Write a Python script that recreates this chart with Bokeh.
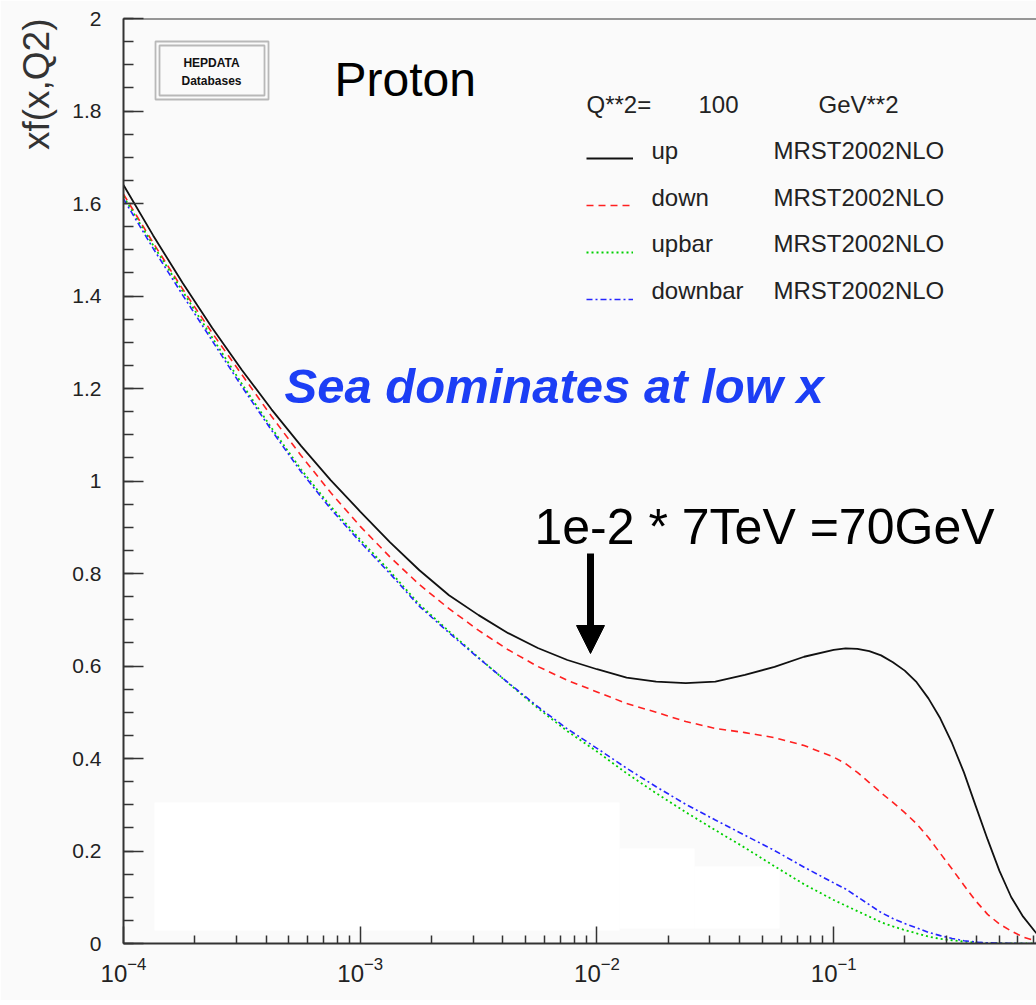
import math
from bokeh.plotting import figure
from bokeh.models import (Legend, LegendItem, Label, Arrow, NormalHead, Span, BoxAnnotation,
                          FixedTicker, Range1d, LogTickFormatter)
from bokeh.embed import file_html
from bokeh.resources import INLINE

# ---------------- data ----------------
x = [1.0e-4, 1.334e-4, 1.778e-4, 2.371e-4, 3.162e-4, 4.217e-4, 5.623e-4, 7.499e-4,
     1.0e-3, 1.334e-3, 1.778e-3, 2.371e-3, 3.162e-3, 4.217e-3, 5.623e-3, 7.499e-3,
     1.0e-2, 1.334e-2, 1.778e-2, 2.371e-2, 3.162e-2, 4.217e-2, 5.623e-2, 7.499e-2,
     0.1, 0.1122, 0.1259, 0.1413, 0.1585, 0.1778, 0.1995, 0.2239, 0.2512, 0.2818,
     0.3162, 0.3548, 0.3981, 0.4467, 0.5012, 0.5623, 0.6310, 0.7079, 0.7244]
up = [1.640, 1.531, 1.428, 1.331, 1.240, 1.155, 1.076, 1.002,
      0.934, 0.868, 0.807, 0.753, 0.710, 0.671, 0.639, 0.613,
      0.593, 0.575, 0.566, 0.563, 0.566, 0.581, 0.598, 0.620,
      0.635, 0.638, 0.637, 0.632, 0.623, 0.608, 0.590, 0.565, 0.530, 0.487,
      0.433, 0.370, 0.297, 0.225, 0.157, 0.100, 0.058, 0.026, 0.020]
down = [1.620, 1.515, 1.415, 1.320, 1.230, 1.140, 1.055, 0.975,
        0.902, 0.836, 0.776, 0.724, 0.677, 0.635, 0.599, 0.569,
        0.544, 0.519, 0.500, 0.480, 0.465, 0.456, 0.445, 0.428,
        0.403, 0.389, 0.370, 0.348, 0.326, 0.305, 0.283, 0.259, 0.229, 0.195,
        0.161, 0.126, 0.092, 0.063, 0.042, 0.027, 0.014, 0.006, 0.005]
upbar = [1.615, 1.510, 1.410, 1.310, 1.210, 1.115, 1.025, 0.945,
         0.873, 0.805, 0.733, 0.675, 0.618, 0.563, 0.509, 0.459,
         0.415, 0.368, 0.325, 0.284, 0.245, 0.207, 0.167, 0.128,
         0.094, 0.082, 0.070, 0.058, 0.046, 0.037, 0.029, 0.022, 0.015, 0.010,
         0.007, 0.004, 0.002, 0.001, 0.0005, 0.0002, 0.0, 0.0, 0.0]
downbar = [1.610, 1.503, 1.402, 1.303, 1.204, 1.110, 1.020, 0.940,
           0.868, 0.800, 0.729, 0.672, 0.617, 0.564, 0.512, 0.464,
           0.422, 0.379, 0.339, 0.301, 0.267, 0.234, 0.201, 0.165,
           0.131, 0.118, 0.101, 0.084, 0.067, 0.054, 0.043, 0.034, 0.024, 0.017,
           0.011, 0.006, 0.003, 0.0015, 0.0008, 0.0003, 0.0, 0.0, 0.0]
series_names = ["up", "down", "upbar", "downbar"]
pdf_set = "MRST2002NLO"

y_ticks = [0, 0.2, 0.4, 0.6, 0.8, 1.0, 1.2, 1.4, 1.6, 1.8, 2.0]
y_tick_labels = ["0", "0.2", "0.4", "0.6", "0.8", "1", "1.2", "1.4", "1.6", "1.8", "2"]
x_ticks = [1e-4, 1e-3, 1e-2, 1e-1]

FONT = "Liberation Sans"

p = figure(width=1036, height=1000, x_axis_type="log",
           x_range=Range1d(1e-4, 0.7187), y_range=Range1d(0, 2),
           output_backend="svg", toolbar_location=None,
           title="xf(x,Q2)", title_location="left",
           min_border_left=122, min_border_right=0, min_border_top=18, min_border_bottom=57,
           background_fill_color="#fafafa", border_fill_color="#fafafa")
p.outline_line_color = None
p.xgrid.visible = False
p.ygrid.visible = False
p.title.align = "right"
p.title.text_font = FONT
p.title.text_font_size = "37px"
p.title.text_font_style = "normal"
p.title.text_color = "#333333"
p.title.standoff = 26

# white patches of the original scan
for (l, r, t, b) in [(31, 496, 141, 13), (496, 571, 95, 15), (571, 656, 77, 15)]:
    p.add_layout(BoxAnnotation(left=l, right=r, top=t, bottom=b,
                               left_units="screen", right_units="screen",
                               top_units="screen", bottom_units="screen",
                               fill_color="white", fill_alpha=1.0, line_color=None,
                               level="underlay"))

# axes
minor_x = [m * 10.0 ** e for e in range(-4, 0) for m in range(2, 10)]
p.xaxis.ticker = FixedTicker(ticks=x_ticks, minor_ticks=minor_x)
p.xaxis.formatter = LogTickFormatter()
p.yaxis.ticker = FixedTicker(ticks=y_ticks, minor_ticks=[i * 0.05 for i in range(41)])
p.yaxis.major_label_overrides = {t: s for t, s in zip(y_ticks, y_tick_labels)}
for ax in (p.xaxis, p.yaxis):
    ax.axis_line_color = "#333333"
    ax.axis_line_width = 2
    ax.major_tick_line_color = "#333333"
    ax.minor_tick_line_color = "#333333"
    ax.major_tick_line_width = 1.5
    ax.minor_tick_line_width = 1.5
    ax.major_tick_out = 0
    ax.minor_tick_out = 0
    ax.major_label_text_font = FONT
    ax.major_label_text_color = "#222222"
p.xaxis.major_tick_in = 17
p.xaxis.minor_tick_in = 8
p.xaxis.major_label_text_font_size = "24px"
p.xaxis.major_label_standoff = 13
p.yaxis.major_tick_in = 20
p.yaxis.minor_tick_in = 10
p.yaxis.major_label_text_font_size = "21px"
p.yaxis.major_label_standoff = 22

p.add_layout(Span(location=2, dimension="width", line_color="#333333", line_width=2))

# curves
r_up = p.line(x, up, line_color="#111111", line_width=1.8)
r_down = p.line(x, down, line_color="#ff2020", line_width=1.6, line_dash="7 5")
r_ubar = p.line(x, upbar, line_color="#00d000", line_width=1.8, line_dash="2 3")
r_dbar = p.line(x, downbar, line_color="#2525ff", line_width=1.6, line_dash="6 3 2 3")
renderers = [r_up, r_down, r_ubar, r_dbar]

# legend samples (labels drawn separately so they sit on the ROOT baselines)
legend = Legend(items=[LegendItem(label=" ", renderers=[r]) for r in renderers],
                location=(463, 629), orientation="vertical",
                glyph_width=47, glyph_height=30, label_height=30, label_standoff=18,
                spacing=17, padding=0, margin=0,
                border_line_alpha=0, background_fill_alpha=0,
                label_text_font=FONT, label_text_font_size="24px")
p.add_layout(legend)

def slabel(xs, ys, text, size, **kw):
    kw.setdefault("text_baseline", "alphabetic")
    p.add_layout(Label(x=xs, y=ys, x_units="screen", y_units="screen", text=text,
                       text_font=FONT, text_font_size=size, **kw))

# legend header, names and pdf-set column
slabel(463, 839, "Q**2=", "24px", text_color="#222222")
slabel(575, 839, "100", "24px", text_color="#222222")
slabel(695, 839, "GeV**2", "24px", text_color="#222222")
for name, yy in zip(series_names, [793, 746, 700, 653]):
    slabel(528, yy, name, "24px", text_color="#222222")
    slabel(650, yy, pdf_set, "24px", text_color="#222222")

# annotations
slabel(211, 864, "Proton", "48px", text_color="black")
slabel(161, 558, "Sea dominates at low x", "49px", text_color="#1c3ef5",
       text_font_style="bold italic")
slabel(411, 417, "1e-2 * 7TeV =70GeV", "50px", text_color="black")
p.add_layout(Arrow(x_start=467, y_start=390, x_end=467, y_end=290,
                   start_units="screen", end_units="screen",
                   line_width=7, line_color="black",
                   end=NormalHead(size=28, fill_color="black", line_color="black")))

# HEPDATA logo
for (l, r, t, b) in [(32, 145, 902, 844), (36, 141, 898, 848)]:
    p.add_layout(BoxAnnotation(left=l, right=r, top=t, bottom=b,
                               left_units="screen", right_units="screen",
                               top_units="screen", bottom_units="screen",
                               fill_alpha=0, line_color="#222222", line_width=1.8))
slabel(88, 881, "HEPDATA", "12px", text_align="center", text_baseline="middle",
       text_color="#111111", text_font_style="bold")
slabel(88, 863, "Databases", "12px", text_align="center", text_baseline="middle",
       text_color="#111111", text_font_style="bold")

open("out.html", "w").write(file_html(p, INLINE))
